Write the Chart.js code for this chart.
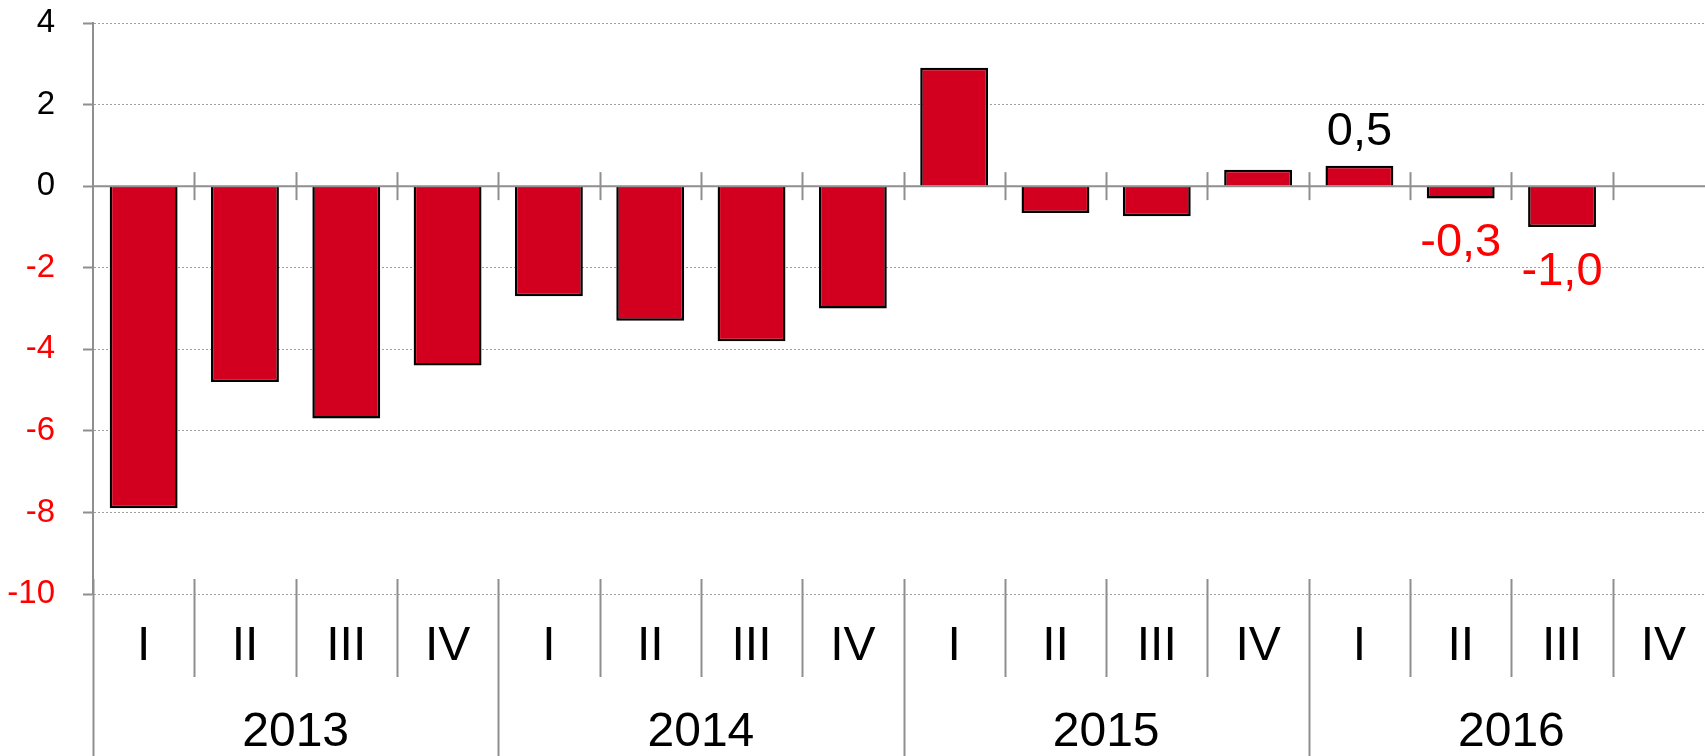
<!DOCTYPE html>
<html>
<head>
<meta charset="utf-8">
<script src="https://cdn.jsdelivr.net/npm/chart.js@4/dist/chart.umd.min.js"></script>
<style>
  html, body { margin: 0; padding: 0; overflow: hidden; background: #ffffff; }
  #wrap { width: 1714px; height: 756px; position: relative; }
</style>
</head>
<body>
<div id="wrap"><canvas id="c"></canvas></div>
<script>
const quarters = ['I','II','III','IV','I','II','III','IV','I','II','III','IV','I','II','III','IV'];
const years = ['2013','2014','2015','2016'];
const values = [-7.9, -4.8, -5.7, -4.4, -2.7, -3.3, -3.8, -3.0, 2.9, -0.66, -0.74, 0.4, 0.5, -0.3, -1.0, null];
const labeledIndices = [12, 13, 14];
const yTicks = [-10, -8, -6, -4, -2, 0, 2, 4];

const FONT = '"Liberation Sans", Arial, sans-serif';
const GRAY = '#8f8f8f';

const decorPlugin = {
  id: 'decor',
  afterDatasetsDraw(chart) {
    const ctx = chart.ctx;
    const xs = chart.scales.x;
    const ys = chart.scales.y;
    const ca = chart.chartArea;
    const y0 = ys.getPixelForValue(0);
    ctx.save();
    // zero line
    ctx.strokeStyle = GRAY;
    ctx.lineWidth = 2;
    ctx.beginPath();
    ctx.moveTo(ca.left, y0);
    ctx.lineTo(ca.right, y0);
    ctx.stroke();
    // ticks on zero line + separators below
    const n = quarters.length;
    const sepTop = ca.bottom - 15;
    for (let k = 0; k <= n; k++) {
      const px = Math.round(xs.getPixelForValue(k - 0.5)) + 0.5;
      if (k > 0) {
        ctx.lineWidth = 2;
        ctx.beginPath();
        ctx.moveTo(px, y0 - 14);
        ctx.lineTo(px, y0 + 14);
        ctx.stroke();
      }
      ctx.lineWidth = 2;
      ctx.beginPath();
      ctx.moveTo(px, sepTop);
      ctx.lineTo(px, k % 4 === 0 ? chart.height : xs.bottom);
      ctx.stroke();
    }
    // data labels
    const meta = chart.getDatasetMeta(0);
    ctx.font = '47px ' + FONT;
    ctx.textAlign = 'center';
    ctx.textBaseline = 'alphabetic';
    labeledIndices.forEach(i => {
      const v = values[i];
      const bar = meta.data[i];
      const txt = v.toFixed(1).replace('.', ',');
      if (v >= 0) {
        ctx.fillStyle = '#000000';
        ctx.fillText(txt, bar.x, bar.y - 21);
      } else {
        ctx.fillStyle = '#ff0000';
        ctx.fillText(txt, bar.x, bar.y + 58);
      }
    });
    ctx.restore();
  }
};

new Chart(document.getElementById('c'), {
  type: 'bar',
  data: {
    labels: quarters,
    datasets: [{
      data: values,
      backgroundColor: '#d2001e',
      borderColor: '#000000',
      borderWidth: 2.5,
      barPercentage: 0.67,
      categoryPercentage: 1.0
    }]
  },
  options: {
    responsive: true,
    maintainAspectRatio: false,
    animation: false,
    layout: { padding: { top: 23, left: 0, right: 0, bottom: 0 } },
    plugins: { legend: { display: false }, tooltip: { enabled: false } },
    scales: {
      y: {
        min: -10,
        max: 4,
        afterBuildTicks(scale) { scale.ticks = yTicks.map(v => ({ value: v })); },
        afterFit(scale) { scale.width = 93; scale.paddingTop = 0; scale.paddingBottom = 0; },
        ticks: {
          padding: 28,
          font: { family: FONT, size: 33 },
          color: c => (c.tick && c.tick.value < 0) ? '#ff0000' : '#000000',
          callback: v => String(v)
        },
        grid: {
          color: '#a0a0a0',
          lineWidth: 1,
          drawTicks: true,
          tickLength: 10,
          tickColor: GRAY,
          tickWidth: 2
        },
        border: { display: true, color: GRAY, width: 2, dash: [2, 2] }
      },
      x: {
        position: 'bottom',
        afterFit(scale) { scale.height = 83; scale.paddingLeft = 0; scale.paddingRight = 0; },
        grid: { display: false, drawTicks: false },
        border: { display: false },
        ticks: {
          autoSkip: false,
          maxRotation: 0,
          minRotation: 0,
          padding: 24,
          color: '#000000',
          font: { family: FONT, size: 48, lineHeight: 1.2 }
        }
      },
      x2: {
        type: 'category',
        labels: years,
        position: 'bottom',
        offset: true,
        afterFit(scale) { scale.height = 79; scale.paddingLeft = 0; scale.paddingRight = 0; },
        grid: { display: false, drawTicks: false },
        border: { display: false },
        ticks: {
          autoSkip: false,
          maxRotation: 0,
          padding: 27,
          color: '#000000',
          font: { family: FONT, size: 48, lineHeight: 1.2 }
        }
      }
    }
  },
  plugins: [decorPlugin]
});
</script>
</body>
</html>
